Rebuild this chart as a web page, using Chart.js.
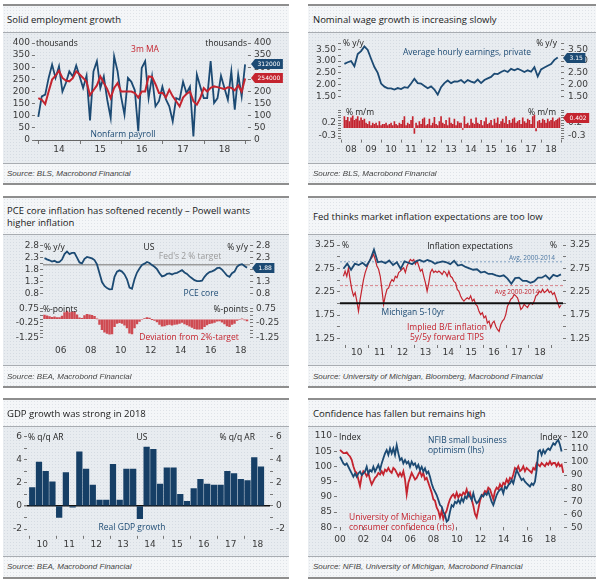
<!DOCTYPE html>
<html>
<head>
<meta charset="utf-8">
<title>US macro chart pack</title>
<script src="https://cdn.jsdelivr.net/npm/chart.js@4.4.1/dist/chart.umd.min.js"></script>
<style>
  html, body { margin: 0; padding: 0; background: #fff; }
  body { position: relative; width: 600px; height: 585px; overflow: hidden; font-family: 'Open Sans', 'DejaVu Sans', sans-serif; color: #222; }
  .panel { position: absolute; box-sizing: border-box; border-top: 2px solid #8e8e8e; border-bottom: 2px solid #8e8e8e;
           background-color: #f4f6f8; background-image: radial-gradient(#dfe3e8 0.6px, transparent 0.9px); background-size: 3px 3px; }
  .band { position: absolute; box-sizing: border-box; border-top: 1px solid #a8acb1; border-bottom: 1px solid #a8acb1;
          background-color: #e8ecf0; background-image: radial-gradient(#d5dbe2 0.6px, transparent 0.9px); background-size: 3px 3px; }
  .t { position: absolute; white-space: nowrap; line-height: 1; }
  .ti { font-size: 9.5px; color: #1a1a1a; }
  .so { font-family: 'Liberation Sans', 'DejaVu Sans', sans-serif; font-size: 8px; font-style: italic; font-weight: normal; color: #444; }
  .u { font-size: 8.5px; color: #222; }
  .nb { font-size: 8.5px; color: #1c4a73; }
  .nr { font-size: 8.5px; color: #c4242f; }
  .ng { font-size: 8.5px; color: #9a9a9a; }
  .sb { font-size: 6.5px; color: #4f79a3; }
  .sr { font-size: 6.5px; color: #c4242f; }
  canvas { position: absolute; }
</style>
</head>
<body>
<script>
// ---- data ----

// Panel 1: nonfarm payrolls, thousands, monthly from Dec 2013
const payroll = [95, 180, 187, 256, 311, 256, 304, 200, 235, 283, 262, 307, 262, 214, 265, 81, 283, 325, 214, 262,
  166, 91, 345, 283, 180, 105, 256, 240, 205, 36, 297, 325, 173, 262, 139, 160, 220, 168, 139, 77,
  173, 166, 240, 193, 220, 15, 270, 220, 173, 173, 325, 153, 173, 265, 214, 166, 283, 125, 270, 180, 312];
const payrollMA = [173, 166, 148, 200, 249, 265, 286, 256, 245, 242, 255, 283, 270, 256, 240, 185, 205, 225, 262, 235,
  210, 173, 215, 235, 200, 200, 200, 200, 194, 175, 200, 200, 262, 260, 230, 194, 195, 175, 207, 180,
  160, 139, 175, 190, 200, 160, 146, 173, 214, 200, 215, 221, 218, 214, 210, 217, 215, 205, 225, 200, 254];
const p1Ticks = [0, 50, 100, 150, 200, 250, 300, 350, 400];
const p1Labels = [2014.5, 2015.5, 2016.5, 2017.5, 2018.5];
const p1Years = [2014, 2015, 2016, 2017, 2018, 2019];

// Panel 2: average hourly earnings, y/y every 2 months and m/m monthly, from Mar 2008
const wageYoY = [2.88, 2.95, 3.0, 2.78, 3.3, 3.42, 3.62, 3.47, 3.1, 2.75, 2.5, 2.05, 1.92, 1.85, 1.85, 1.8, 1.86, 1.82, 1.9, 1.87,
  2.05, 2.25, 2.07, 2.05, 1.95, 1.85, 1.93, 1.8, 1.58, 1.9, 2.07, 2.18, 2.07, 2.14, 2.13, 2.2, 2.08, 2.2, 2.13, 2.09,
  2.22, 2.07, 2.2, 2.27, 2.33, 2.47, 2.45, 2.54, 2.6, 2.54, 2.67, 2.61, 2.68, 2.61, 2.54, 2.61, 2.55, 2.74, 2.35, 2.65,
  2.73, 2.8, 2.87, 3.05, 3.15];
const wageMoM = [0.45, 0.3, 0.42, 0.25, 0.4, 0.48, 0.3, 0.35, 0.45, 0.28, 0.4, 0.3,
  0.35, 0.2, 0.15, 0.25, 0.1, 0.2, 0.15, 0.2, 0.1, 0.25, 0.1, 0.15,
  0.15, 0.2, 0.1, 0.15, 0.2, 0.1, 0.25, 0.15, 0.1, 0.2, 0.15, 0.3,
  0.45, 0.1, 0.2, 0.15, 0.3, 0.45, -0.2, 0.2, 0.1, 0.25, 0.15, 0.35,
  0.4, 0.1, 0.15, 0.35, 0.1, 0.2, 0.42, 0.15, 0.1, 0.25, 0.45, 0.2,
  0.15, 0.3, 0.1, 0.4, 0.2, 0.15, 0.35, 0.1, 0.25, 0.2, 0.2, -0.05,
  0.45, 0.15, 0.2, 0.1, 0.35, 0.2, 0.15, 0.4, 0.2, 0.15, 0.3, 0.1,
  0.25, 0.4, 0.15, 0.2, 0.3, 0.1, 0.35, 0.2, 0.4, 0.15, 0.25, 0.35,
  0.2, 0.45, 0.15, 0.3, 0.2, 0.35, 0.4, 0.2, 0.25, 0.3, 0.15, 0.4,
  0.25, 0.2, 0.35, 0.3, 0.15, 0.45, 0.5, -0.1, 0.25, 0.3, 0.2, 0.35,
  0.3, 0.2, 0.35, 0.25, 0.3, 0.4, 0.25, 0.3, 0.35, 0.402];
const p2TopTicks = [1.5, 1.75, 2.0, 2.25, 2.5, 2.75, 3.0, 3.25, 3.5, 3.75];
const p2TopLabeled = [1.5, 2.0, 2.5, 3.0, 3.5];
const p2BotTicks = [-0.4, -0.3, -0.2, -0.1, 0, 0.1, 0.2, 0.3, 0.4, 0.5, 0.6, 0.7];
const p2BotLabeled = [-0.3, 0.2];
const p2Labels = [2008.5, 2009.5, 2010.5, 2011.5, 2012.5, 2013.5, 2014.5, 2015.5, 2016.5, 2017.5, 2018.5];
const p2Years = [2008, 2009, 2010, 2011, 2012, 2013, 2014, 2015, 2016, 2017, 2018, 2019];

// Panel 3: PCE core y/y and deviation from 2% target, every 2 months from mid-2005
const pceCore = [2.28, 2.23, 2.19, 2.14, 2.17, 2.11, 2.12, 2.22, 2.45, 2.56, 2.45, 2.5, 2.5, 2.3, 2.1, 2.06, 2.25, 2.33, 2.3, 2.27,
  2.2, 2.02, 1.65, 1.28, 1.12, 1.03, 0.98, 0.99, 1.5, 1.72, 1.77, 1.72, 1.6, 1.4, 1.05, 1.0, 1.4, 1.68, 1.85, 2.0,
  2.05, 2.12, 2.08, 1.99, 1.92, 1.82, 1.65, 1.52, 1.55, 1.62, 1.64, 1.6, 1.65, 1.67, 1.72, 1.78, 1.68, 1.62, 1.52, 1.44,
  1.36, 1.32, 1.32, 1.34, 1.5, 1.62, 1.7, 1.73, 1.78, 1.86, 1.88, 1.8, 1.68, 1.55, 1.5, 1.65, 1.72, 1.92, 2.0, 2.03,
  1.95, 1.88];
const pceDeviation = [0.28, 0.23, 0.19, 0.14, 0.17, 0.11, 0.12, 0.22, 0.45, 0.56, 0.45, 0.5, 0.5, 0.3, 0.1, 0.06, 0.25, 0.33, 0.3, 0.27,
  0.2, 0.02, -0.35, -0.72, -0.88, -0.97, -1.02, -1.01, -0.5, -0.28, -0.23, -0.28, -0.4, -0.6, -0.95, -1.0, -0.6, -0.32, -0.15, 0.0,
  0.05, 0.12, 0.08, -0.01, -0.08, -0.18, -0.35, -0.48, -0.45, -0.38, -0.36, -0.4, -0.35, -0.33, -0.28, -0.22, -0.32, -0.38, -0.48, -0.56,
  -0.64, -0.68, -0.68, -0.66, -0.5, -0.38, -0.3, -0.27, -0.22, -0.14, -0.12, -0.2, -0.32, -0.45, -0.5, -0.35, -0.28, -0.08, 0.0, 0.03,
  -0.05, -0.12];
const fedTarget = 2.0;
const p3TopTicks = [0.8, 1.05, 1.3, 1.55, 1.8, 2.05, 2.3, 2.55, 2.8];
const p3TopLabeled = [0.8, 1.3, 1.8, 2.3, 2.8];
const p3BotTicks = [-1.25, -1.0, -0.75, -0.5, -0.25, 0, 0.25, 0.5, 0.75];
const p3BotLabeled = [-1.25, -0.25, 0.75];
const p3Labels = [2006.5, 2008.5, 2010.5, 2012.5, 2014.5, 2016.5, 2018.5];

// Panel 4: Michigan 5-10yr expectations (every 2 months) and 5y5y TIPS breakeven (~every 3-4 weeks)
const michigan5to10 = [2.74, 2.85, 2.72, 2.85, 2.82, 2.87, 2.8, 2.93, 3.15, 2.88, 2.9, 2.86, 2.92, 2.82, 2.88, 2.74, 2.9, 2.87, 2.84, 2.9,
  2.93, 2.89, 2.93, 2.9, 2.85, 2.88, 2.9, 2.88, 2.84, 2.91, 2.81, 2.83, 2.78, 2.75, 2.72, 2.73, 2.66, 2.68, 2.63, 2.63,
  2.6, 2.58, 2.6, 2.53, 2.42, 2.54, 2.55, 2.48, 2.48, 2.44, 2.47, 2.55, 2.55, 2.6, 2.52, 2.61, 2.58, 2.62];
const tips5y5y = [2.58, 2.69, 2.58, 2.76, 2.51, 2.3, 2.16, 2.23, 2.05, 1.83, 2.09, 2.3, 2.51, 2.66, 2.76, 2.87, 2.94, 2.98, 3.05, 2.94,
  2.8, 2.73, 2.58, 2.3, 1.98, 2.16, 2.3, 2.33, 2.44, 2.51, 2.47, 2.58, 2.55, 2.66, 2.69, 2.73, 2.76, 2.66, 2.8, 2.87,
  2.94, 2.91, 2.94, 2.84, 2.91, 2.8, 2.69, 2.73, 2.58, 2.44, 2.26, 2.44, 2.66, 2.73, 2.66, 2.69, 2.66, 2.69, 2.66, 2.62,
  2.69, 2.66, 2.58, 2.69, 2.58, 2.55, 2.47, 2.44, 2.3, 2.26, 2.16, 2.09, 2.05, 2.09, 2.12, 2.09, 2.16, 2.05, 2.09, 1.98,
  1.94, 1.83, 1.76, 1.8, 1.69, 1.73, 1.58, 1.62, 1.48, 1.58, 1.62, 1.51, 1.44, 1.4, 1.55, 1.62, 1.66, 1.76, 1.94, 2.01,
  2.09, 2.12, 2.19, 2.16, 2.12, 2.01, 1.87, 1.91, 1.98, 1.94, 1.91, 1.98, 2.01, 1.98, 2.05, 2.16, 2.19, 2.26, 2.23, 2.3,
  2.23, 2.26, 2.3, 2.23, 2.26, 2.19, 2.23, 2.12, 2.01, 1.91, 1.96];
const michiganAvg = 2.89;
const tipsAvg = 2.38;
const p4Ticks = [1.25, 1.5, 1.75, 2.0, 2.25, 2.5, 2.75, 3.0, 3.25];
const p4Labeled = [1.25, 1.75, 2.25, 2.75, 3.25];
const p4Labels = [2010.5, 2011.5, 2012.5, 2013.5, 2014.5, 2015.5, 2016.5, 2017.5, 2018.5];
const p4Years = [2010, 2011, 2012, 2013, 2014, 2015, 2016, 2017, 2018, 2019];

// Panel 5: real GDP growth, % q/q AR, 2010Q1-2018Q3
const gdpGrowth = [1.6, 3.8, 3.0, 2.1, -1.0, 2.9, -0.1, 4.7, 3.2, 1.8, 0.5, 0.5, 3.6, 0.5, 3.2, 3.2, -1.1, 5.1, 4.9, 1.9,
  3.3, 3.3, 1.0, 0.4, 1.5, 2.3, 1.9, 1.8, 1.8, 3.0, 2.8, 2.3, 2.2, 4.2, 3.4];
const p5Ticks = [-2, -1, 0, 1, 2, 3, 4, 5, 6];
const p5Labeled = [-2, 0, 2, 4, 6];
const p5Labels = [2010.5, 2011.5, 2012.5, 2013.5, 2014.5, 2015.5, 2016.5, 2017.5, 2018.5];
const p5Years = [2010, 2011, 2012, 2013, 2014, 2015, 2016, 2017, 2018];

// Panel 6: NFIB optimism (lhs) and Michigan consumer confidence (rhs), ~every 7 weeks from Jan 2000
const nfib = [103.2, 102.1, 101.0, 100.5, 101.0, 99.9, 98.8, 97.7, 96.6, 97.7, 96.6, 97.7, 98.3, 97.2, 97.7, 98.3, 99.9, 97.7, 98.8, 98.3,
  99.9, 98.3, 99.4, 100.5, 98.8, 101.0, 102.7, 104.3, 105.4, 103.8, 105.9, 104.3, 105.9, 103.8, 107.0, 104.3, 102.1, 102.7, 101.0, 102.1,
  101.0, 101.6, 99.9, 101.6, 100.5, 101.0, 99.4, 100.5, 98.8, 99.9, 98.3, 99.4, 97.7, 98.3, 96.6, 94.4, 92.8, 91.7, 90.6, 89.0,
  87.3, 86.8, 85.1, 84.0, 81.9, 82.4, 85.1, 87.3, 86.8, 88.4, 87.9, 89.0, 87.9, 89.5, 88.4, 90.1, 89.5, 91.2, 90.1, 89.0,
  91.2, 89.0, 87.9, 88.4, 89.5, 90.6, 90.1, 91.2, 90.6, 91.7, 90.1, 88.4, 87.3, 89.0, 90.6, 91.7, 92.3, 92.8, 91.2, 93.4,
  92.8, 93.9, 94.4, 95.5, 94.4, 96.6, 98.8, 97.7, 96.6, 95.5, 96.0, 95.0, 94.4, 93.9, 93.4, 94.4, 93.9, 95.0, 98.8, 104.9,
  105.4, 103.8, 105.4, 104.3, 105.4, 105.9, 105.4, 106.5, 107.6, 107.1, 108.1, 108.7, 107.1, 104.9];
const michiganSentiment = [109.4, 108.1, 106.9, 106.9, 107.4, 105.6, 104.3, 101.8, 96.8, 93.0, 91.7, 86.7, 81.6, 89.2, 93.0, 91.7, 89.2, 91.7, 86.7, 82.9,
  85.4, 87.9, 89.2, 91.7, 90.5, 93.0, 90.5, 94.2, 93.0, 95.5, 93.0, 91.7, 95.5, 94.2, 91.7, 89.2, 91.7, 89.2, 93.0, 86.7,
  75.3, 84.1, 87.9, 91.7, 89.2, 86.7, 87.9, 90.5, 93.0, 89.2, 91.7, 86.7, 87.9, 84.1, 80.4, 76.6, 71.5, 70.3, 65.2, 62.7,
  57.6, 62.7, 56.4, 60.2, 62.7, 67.7, 71.5, 74.0, 75.3, 72.8, 76.6, 72.8, 75.3, 74.0, 76.6, 75.3, 79.1, 74.0, 76.6, 71.5,
  66.5, 60.2, 57.6, 63.9, 70.3, 74.0, 75.3, 77.8, 76.6, 80.4, 79.1, 75.3, 71.5, 77.8, 80.4, 79.1, 82.9, 80.4, 84.1, 82.9,
  86.7, 84.1, 87.9, 86.7, 90.5, 95.5, 94.2, 96.8, 93.0, 94.2, 96.8, 93.0, 95.5, 94.2, 93.0, 91.7, 95.5, 94.2, 99.3, 98.0,
  96.8, 99.3, 98.0, 96.8, 99.3, 98.0, 100.6, 98.0, 99.3, 99.3, 96.8, 99.3, 96.8, 98.0, 91.7];
const p6LeftTicks = [80, 85, 90, 95, 100, 105, 110];
const p6RightTicks = [50, 60, 70, 80, 90, 100, 110, 120];
const p6Labels = [2000, 2002, 2004, 2006, 2008, 2010, 2012, 2014, 2016, 2018];

// ---- styling ----
const navy = '#1c4a73';
const red = '#c4242f';
const gdpNavy = '#163f66';
const tickColor = '#3a3a3a';
const markColor = '#777';

Chart.defaults.font.family = "'DejaVu Sans', sans-serif";
Chart.defaults.font.size = 9;
Chart.defaults.color = tickColor;
Chart.defaults.animation = false;
Chart.defaults.plugins.legend.display = false;
Chart.defaults.plugins.tooltip.enabled = false;
Chart.defaults.elements.point.radius = 0;
Chart.defaults.elements.line.tension = 0;

function series(start, step, values) {
  return values.map((v, i) => ({ x: start + i * step, y: v }));
}
function fixedLine(xMin, xMax, level) {
  return [{ x: xMin, y: level }, { x: xMax, y: level }];
}
const yy = v => String(Math.floor(v)).slice(2);

function yAxis(o) {
  return {
    type: 'linear', position: o.position, min: o.min, max: o.max,
    afterBuildTicks: s => { s.ticks = o.ticks.map(v => ({ value: v })); },
    afterFit: s => { s.width = o.width; },
    ticks: { autoSkip: false, padding: o.pad, color: tickColor, callback: v => (o.labeled.includes(v) ? o.fmt(v) : '') },
    grid: Object.assign({ drawOnChartArea: false, drawTicks: true, tickLength: 3, color: markColor, tickColor: markColor }, o.grid || {}),
    border: { display: false },
  };
}

function xAxis(o) {
  if (o.display === false) {
    return { type: 'linear', min: o.min, max: o.max, offset: false, display: false };
  }
  return {
    type: 'linear', min: o.min, max: o.max, offset: false,
    afterBuildTicks: s => { s.ticks = o.ticks.map(v => ({ value: v })); },
    afterFit: s => { s.height = o.height; },
    ticks: { autoSkip: false, maxRotation: 0, padding: o.pad, color: tickColor, callback: yy },
    grid: { display: !!o.tickLen, offset: false, drawOnChartArea: false, drawTicks: !!o.tickLen, tickLength: o.tickLen || 0, color: markColor },
    border: o.border || { display: false },
  };
}

// small marks below the axis at year boundaries
const yearMarks = {
  id: 'yearMarks',
  afterDraw(chart, args, opts) {
    if (!opts || !opts.values) return;
    const { ctx, chartArea } = chart;
    const x = chart.scales.x;
    ctx.save();
    ctx.strokeStyle = markColor;
    ctx.lineWidth = 1;
    opts.values.forEach(v => {
      const px = Math.round(x.getPixelForValue(v)) + 0.5;
      ctx.beginPath();
      ctx.moveTo(px, chartArea.bottom + 1);
      ctx.lineTo(px, chartArea.bottom + 4);
      ctx.stroke();
    });
    ctx.restore();
  }
};

// value boxes at the right-hand axis showing the latest observation
const endBoxes = {
  id: 'endBoxes',
  afterDraw(chart, args, opts) {
    if (!opts || !opts.items) return;
    const { ctx, chartArea } = chart;
    opts.items.forEach(item => {
      const ds = chart.data.datasets[item.dataset];
      const last = ds.data[ds.data.length - 1];
      const yScale = chart.scales[chart.getDatasetMeta(item.dataset).yAxisID];
      const y = Math.round(yScale.getPixelForValue(last.y));
      const text = item.label;
      ctx.save();
      ctx.font = "6px 'DejaVu Sans', sans-serif";
      const w = ctx.measureText(text).width + 5;
      const h = 10;
      const x0 = chartArea.right + (opts.gap || 3);
      ctx.fillStyle = item.color;
      ctx.beginPath();
      ctx.moveTo(x0, y);
      ctx.lineTo(x0 + 4, y - h / 2);
      ctx.lineTo(x0 + 4 + w, y - h / 2);
      ctx.lineTo(x0 + 4 + w, y + h / 2);
      ctx.lineTo(x0 + 4, y + h / 2);
      ctx.closePath();
      ctx.fill();
      ctx.fillStyle = '#fff';
      ctx.textBaseline = 'middle';
      ctx.fillText(text, x0 + 6.5, y + 0.5);
      ctx.restore();
    });
  }
};

function makeChart(box, config) {
  const c = document.createElement('canvas');
  c.width = box.w; c.height = box.h;
  c.style.left = box.x + 'px'; c.style.top = box.y + 'px';
  c.style.width = box.w + 'px'; c.style.height = box.h + 'px';
  document.body.appendChild(c);
  config.options.responsive = false;
  config.options.animation = false;
  config.options.layout = { padding: { top: box.top, bottom: box.bottom || 0, left: 0, right: 0 } };
  config.plugins = [yearMarks, endBoxes];
  try {
    return new Chart(c, config);
  } catch (e) {
    console.error('chart failed', box, e && e.message);
  }
}

// ---- panel frames ----
const frames = [
  { x: 3, y: 4, w: 286, h: 181, band: [32, 164] },
  { x: 308, y: 4, w: 288, h: 181, band: [32, 164] },
  { x: 3, y: 196, w: 286, h: 192, band: [234, 366] },
  { x: 308, y: 196, w: 288, h: 192, band: [234, 366] },
  { x: 3, y: 398, w: 286, h: 181, band: [426, 557] },
  { x: 308, y: 398, w: 288, h: 181, band: [426, 557] },
];
frames.forEach(f => {
  const p = document.createElement('div');
  p.className = 'panel';
  Object.assign(p.style, { left: f.x + 'px', top: f.y + 'px', width: f.w + 'px', height: f.h + 'px' });
  document.body.appendChild(p);
  const b = document.createElement('div');
  b.className = 'band';
  Object.assign(b.style, { left: f.x + 'px', top: f.band[0] + 'px', width: f.w + 'px', height: (f.band[1] - f.band[0]) + 'px' });
  document.body.appendChild(b);
});

// ---- panel 1: payrolls ----
makeChart({ x: 3, y: 31, w: 286, h: 131, top: 12 }, {
  type: 'line',
  data: { datasets: [
    { data: series(2014, 1 / 12, payroll), borderColor: navy, borderWidth: 1.8, order: 1 },
    { data: series(2014, 1 / 12, payrollMA), borderColor: red, borderWidth: 2, order: 0 },
  ] },
  options: {
    scales: {
      x: xAxis({ min: 2013.92, max: 2019.07, ticks: p1Labels, height: 22, pad: 4,
        border: { display: true, dash: [2, 2], color: '#666', width: 1 } }),
      y: yAxis({ position: 'left', min: 0, max: 400, ticks: p1Ticks, labeled: p1Ticks, fmt: v => String(v), width: 32, pad: 2 }),
      y2: yAxis({ position: 'right', min: 0, max: 400, ticks: p1Ticks, labeled: p1Ticks, fmt: v => String(v), width: 41, pad: 3 }),
    },
    plugins: {
      yearMarks: { values: p1Years },
      endBoxes: { gap: 3, items: [
        { dataset: 0, color: navy, label: '312000' },
        { dataset: 1, color: red, label: '254000' },
      ] },
    },
  },
});

// ---- panel 2: wages ----
makeChart({ x: 308, y: 31, w: 288, h: 75, top: 12.3, bottom: 7 }, {
  type: 'line',
  data: { datasets: [{ data: series(2008.17, 1 / 6, wageYoY), borderColor: navy, borderWidth: 1.8 }] },
  options: {
    scales: {
      x: xAxis({ min: 2008, max: 2019, display: false }),
      y: yAxis({ position: 'left', min: 1.5, max: 3.75, ticks: p2TopTicks, labeled: p2TopLabeled, fmt: v => v.toFixed(2), width: 33, pad: 2 }),
      y2: yAxis({ position: 'right', min: 1.5, max: 3.75, ticks: p2TopTicks, labeled: p2TopLabeled, fmt: v => v.toFixed(2), width: 35, pad: 4 }),
    },
    plugins: { endBoxes: { gap: 2, items: [{ dataset: 0, color: navy, label: '3.15' }] } },
  },
});
makeChart({ x: 308, y: 99, w: 288, h: 63, top: 11 }, {
  type: 'bar',
  data: { datasets: [{ data: series(2008.17, 1 / 12, wageMoM), backgroundColor: red, barThickness: 1 }] },
  options: {
    scales: {
      x: xAxis({ min: 2008, max: 2019, ticks: p2Labels, height: 23.4, pad: 6 }),
      y: yAxis({ position: 'left', min: -0.4, max: 0.7, ticks: p2BotTicks, labeled: p2BotLabeled, fmt: v => v.toFixed(1), width: 33, pad: 2 }),
      y2: yAxis({ position: 'right', min: -0.4, max: 0.7, ticks: p2BotTicks, labeled: p2BotLabeled, fmt: v => v.toFixed(1), width: 35, pad: 4 }),
    },
    plugins: {
      yearMarks: { values: p2Years },
      endBoxes: { gap: 2, items: [{ dataset: 0, color: red, label: '0.402' }] },
    },
  },
});

// ---- panel 3: PCE core ----
makeChart({ x: 3, y: 234, w: 286, h: 68, top: 11.7, bottom: 8 }, {
  type: 'line',
  data: { datasets: [
    { data: series(2005.42, 1 / 6, pceCore), borderColor: navy, borderWidth: 1.8, order: 0 },
    { data: fixedLine(2005.32, 2019.12, fedTarget), borderColor: '#9b9b9b', borderWidth: 1.5, order: 1 },
  ] },
  options: {
    scales: {
      x: xAxis({ min: 2005.32, max: 2019.12, display: false }),
      y: yAxis({ position: 'left', min: 0.8, max: 2.8, ticks: p3TopTicks, labeled: p3TopLabeled, fmt: v => v.toFixed(1), width: 40, pad: 1 }),
      y2: yAxis({ position: 'right', min: 0.8, max: 2.8, ticks: p3TopTicks, labeled: p3TopLabeled, fmt: v => v.toFixed(1), width: 39, pad: 3 }),
    },
    plugins: { endBoxes: { gap: 2, items: [{ dataset: 0, color: navy, label: '1.88' }] } },
  },
});
makeChart({ x: 3, y: 298, w: 286, h: 68, top: 10.3 }, {
  type: 'bar',
  data: { datasets: [{ data: series(2005.42, 1 / 6, pceDeviation), backgroundColor: '#cf4a52', barThickness: 1.8 }] },
  options: {
    scales: {
      x: xAxis({ min: 2005.32, max: 2019.12, ticks: p3Labels, height: 28.5, pad: 8 }),
      y: yAxis({ position: 'left', min: -1.25, max: 0.75, ticks: p3BotTicks, labeled: p3BotLabeled, fmt: v => v.toFixed(2), width: 40, pad: 1 }),
      y2: yAxis({ position: 'right', min: -1.25, max: 0.75, ticks: p3BotTicks, labeled: p3BotLabeled, fmt: v => v.toFixed(2), width: 39, pad: 3 }),
    },
  },
});

// ---- panel 4: inflation expectations ----
const p4Min = 2009.77, p4Max = 2019.51;
makeChart({ x: 308, y: 234, w: 288, h: 132, top: 11 }, {
  type: 'line',
  data: { datasets: [
    { data: fixedLine(p4Min, p4Max, fedTarget), borderColor: '#111', borderWidth: 2, order: 0 },
    { data: series(2009.92, 1 / 6, michigan5to10), borderColor: navy, borderWidth: 1.8, order: 1 },
    { data: series(2009.92, 0.0731, tips5y5y), borderColor: red, borderWidth: 1.2, order: 2 },
    { data: fixedLine(p4Min, p4Max, michiganAvg), borderColor: '#7f9fc0', borderWidth: 1, borderDash: [2, 2], order: 3 },
    { data: fixedLine(p4Min, p4Max, tipsAvg), borderColor: '#d4666c', borderWidth: 0.8, borderDash: [3, 2], order: 3 },
  ] },
  options: {
    scales: {
      x: xAxis({ min: p4Min, max: p4Max, ticks: p4Labels, height: 22, pad: 3 }),
      y: yAxis({ position: 'left', min: 1.13, max: 3.25, ticks: p4Ticks, labeled: p4Labeled, fmt: v => v.toFixed(2), width: 32, pad: 2 }),
      y2: yAxis({ position: 'right', min: 1.13, max: 3.25, ticks: p4Ticks, labeled: p4Labeled, fmt: v => v.toFixed(2), width: 33, pad: 4 }),
    },
    plugins: { yearMarks: { values: p4Years } },
  },
});

// ---- panel 5: GDP ----
const zeroGrid = {
  drawOnChartArea: true,
  color: c => (c.tick && c.tick.value === 0 ? '#111' : 'rgba(0,0,0,0)'),
  lineWidth: c => (c.tick && c.tick.value === 0 ? 1.5 : 1),
  tickColor: markColor,
};
makeChart({ x: 3, y: 426, w: 286, h: 129, top: 8.4 }, {
  type: 'bar',
  data: { datasets: [{ data: series(2010.125, 0.25, gdpGrowth), backgroundColor: gdpNavy, barThickness: 5.6 }] },
  options: {
    scales: {
      x: xAxis({ min: 2009.93, max: 2018.96, ticks: p5Labels, height: 20.2, pad: 4 }),
      y: yAxis({ position: 'left', min: -2.5, max: 6.2, ticks: p5Ticks, labeled: p5Labeled, fmt: v => String(v), width: 24, pad: 2, grid: zeroGrid }),
      y2: yAxis({ position: 'right', min: -2.5, max: 6.2, ticks: p5Ticks, labeled: p5Labeled, fmt: v => String(v), width: 19, pad: 3 }),
    },
    plugins: { yearMarks: { values: p5Years } },
  },
});

// ---- panel 6: confidence ----
makeChart({ x: 308, y: 426, w: 288, h: 130, top: 10 }, {
  type: 'line',
  data: { datasets: [
    { data: series(2000, 0.14245, nfib), borderColor: navy, borderWidth: 1.8, yAxisID: 'y', order: 0 },
    { data: series(2000, 0.14245, michiganSentiment), borderColor: red, borderWidth: 1.8, yAxisID: 'y2', order: 1 },
  ] },
  options: {
    scales: {
      x: xAxis({ min: 1999.74, max: 2019.15, ticks: p6Labels, height: 28.7, pad: 4, tickLen: 3 }),
      y: yAxis({ position: 'left', min: 80, max: 110, ticks: p6LeftTicks, labeled: p6LeftTicks, fmt: v => String(v), width: 29, pad: 2 }),
      y2: yAxis({ position: 'right', min: 50, max: 120, ticks: p6RightTicks, labeled: p6RightTicks, fmt: v => String(v), width: 32, pad: 4 }),
    },
  },
});

// ---- texts ----
const notes = [
  ['Solid employment growth', 7, 20, 'l', 'ti'],
  ['Source: BLS, Macrobond Financial', 7, 174, 'l', 'so'],
  ['thousands', 36, 43, 'l', 'u'],
  ['thousands', 247, 43, 'r', 'u'],
  ['3m MA', 145, 49, 'c', 'nr'],
  ['Nonfarm payroll', 123, 134, 'c', 'nb'],

  ['Nominal wage growth is increasing slowly', 313, 20, 'l', 'ti'],
  ['Source: BLS, Macrobond Financial', 313, 174, 'l', 'so'],
  ['% y/y', 343, 43, 'l', 'u'],
  ['% y/y', 557, 43, 'r', 'u'],
  ['Average hourly earnings, private', 467, 52, 'c', 'nb'],
  ['% m/m', 346, 112, 'l', 'u'],
  ['% m/m', 556, 112, 'r', 'u'],

  ['PCE core inflation has softened recently \u2013 Powell wants', 7, 211, 'l', 'ti'],
  ['higher inflation', 7, 222.5, 'l', 'ti'],
  ['Source: BEA, Macrobond Financial', 7, 377, 'l', 'so'],
  ['% y/y', 44, 246.5, 'l', 'u'],
  ['US', 149, 247, 'c', 'u'],
  ['% y/y', 248, 246.5, 'r', 'u'],
  ["Fed's 2 % target", 190, 256, 'c', 'ng'],
  ['PCE core', 201, 293, 'c', 'nb'],
  ['%-points', 43, 309, 'l', 'u'],
  ['%-points', 248, 309, 'r', 'u'],
  ['Deviation from 2%-target', 189, 337, 'c', 'nr'],

  ['Fed thinks market inflation expectations are too low', 313, 216.7, 'l', 'ti'],
  ['Source: University of Michigan, Bloomberg, Macrobond Financial', 313, 377, 'l', 'so'],
  ['%', 342, 245, 'l', 'u'],
  ['Inflation expectations', 470, 246, 'c', 'u'],
  ['%', 557, 245, 'r', 'u'],
  ['Avg. 2000-2014', 532, 257.5, 'c', 'sb'],
  ['Avg 2000-2014', 517, 291.5, 'c', 'sr'],
  ['Michigan 5-10yr', 413, 311.7, 'c', 'nb'],
  ['Implied B/E inflation', 447, 326.7, 'c', 'nr'],
  ['5y/5y forward TIPS', 447, 337, 'c', 'nr'],

  ['GDP growth was strong in 2018', 7, 414, 'l', 'ti'],
  ['Source: BEA, Macrobond Financial', 7, 567, 'l', 'so'],
  ['% q/q AR', 28, 437, 'l', 'u'],
  ['US', 142, 437, 'c', 'u'],
  ['% q/q AR', 255, 437, 'r', 'u'],
  ['Real GDP growth', 132, 527, 'c', 'nb'],

  ['Confidence has fallen but remains high', 313, 414, 'l', 'ti'],
  ['Source: NFIB, University of Michigan, Macrobond Financial', 313, 567, 'l', 'so'],
  ['Index', 339, 437, 'l', 'u'],
  ['Index', 562, 437, 'r', 'u'],
  ['NFIB small business', 428, 439.5, 'l', 'nb'],
  ['optimism (lhs)', 428, 449.5, 'l', 'nb'],
  ['University of Michigan', 349, 516.7, 'l', 'nr'],
  ['consumer confidence (rhs)', 349, 526.5, 'l', 'nr'],
];
notes.forEach(([text, x, y, anchor, cls]) => {
  const d = document.createElement('div');
  d.className = 't ' + cls;
  d.textContent = text;
  d.style.left = x + 'px';
  d.style.top = y + 'px';
  const tx = anchor === 'c' ? '-50%' : anchor === 'r' ? '-100%' : '0';
  d.style.transform = 'translate(' + tx + ', -50%)';
  document.body.appendChild(d);
});
</script>
</body>
</html>
